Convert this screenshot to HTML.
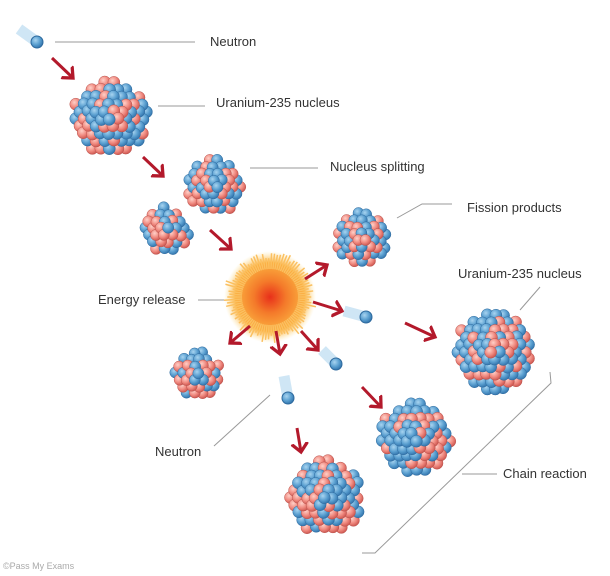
<!DOCTYPE html>
<html><head><meta charset="utf-8">
<style>
html,body{margin:0;padding:0;background:#fff;}
svg{display:block;}
text{font-family:"Liberation Sans",sans-serif;font-size:13px;fill:#333;}
</style></head>
<body>
<svg id="s" width="610" height="576" viewBox="0 0 610 576" xmlns="http://www.w3.org/2000/svg">
<defs>
<radialGradient id="gb" cx="0.38" cy="0.35" r="0.7"><stop offset="0" stop-color="#a8d4f0"/><stop offset="0.55" stop-color="#5a9fd0"/><stop offset="1" stop-color="#2e6fa8"/></radialGradient>
<radialGradient id="gr" cx="0.38" cy="0.35" r="0.7"><stop offset="0" stop-color="#ffd0c8"/><stop offset="0.55" stop-color="#f08a80"/><stop offset="1" stop-color="#c8504a"/></radialGradient>
<radialGradient id="ge" cx="0.5" cy="0.5" r="0.5"><stop offset="0" stop-color="#e8301a"/><stop offset="0.35" stop-color="#f47a2a"/><stop offset="0.75" stop-color="#fbb040"/><stop offset="1" stop-color="#fde6a0" stop-opacity="0"/></radialGradient>
<marker id="ah" markerWidth="6" markerHeight="6" refX="3" refY="3" orient="auto" markerUnits="strokeWidth"><path d="M0,0.3 L3,3 L0,5.7" fill="none" stroke="#b3192b" stroke-width="1.1"/></marker>
</defs>
<g stroke="#999" stroke-width="1" fill="none">
<line x1="55" y1="42" x2="195" y2="42"/>
<line x1="158" y1="106" x2="205" y2="106"/>
<line x1="250" y1="168" x2="318" y2="168"/>
<polyline points="397,218 422,204 452,204"/>
<line x1="540" y1="287" x2="520" y2="310"/>
<line x1="198" y1="300" x2="228" y2="300"/>
<line x1="214" y1="446" x2="270" y2="395"/>
<line x1="462" y1="474" x2="497" y2="474"/>
<polyline points="550,372 551,383 375,553 362,553"/>
</g>
<text x="210" y="46">Neutron</text>
<text x="216" y="107">Uranium-235 nucleus</text>
<text x="330" y="171">Nucleus splitting</text>
<text x="467" y="212">Fission products</text>
<text x="458" y="278">Uranium-235 nucleus</text>
<text x="98" y="304">Energy release</text>
<text x="155" y="456">Neutron</text>
<text x="503" y="478">Chain reaction</text>
<text x="3" y="569" style="font-size:9px;fill:#aaa">©Pass My Exams</text>
<g id="nuc"></g>
<circle cx="270" cy="297" r="46" fill="url(#ge)"/>
<g id="rays"></g>
<g stroke="#b3192b" stroke-width="3" fill="none" marker-end="url(#ah)">
<line x1="52" y1="58" x2="73" y2="78"/>
<line x1="143" y1="157" x2="163" y2="176"/>
<line x1="210" y1="230" x2="231" y2="249"/>
<line x1="305" y1="279" x2="327" y2="265"/>
<line x1="313" y1="302" x2="342" y2="311"/>
<line x1="250" y1="326" x2="230" y2="343"/>
<line x1="276" y1="331" x2="280" y2="354"/>
<line x1="301" y1="331" x2="318" y2="350"/>
<line x1="405" y1="323" x2="435" y2="337"/>
<line x1="362" y1="387" x2="381" y2="407"/>
<line x1="297" y1="428" x2="301" y2="452"/>
</g>
<g id="neu"></g>
</svg>
<script>
var ns="http://www.w3.org/2000/svg";
var seed=7;function rnd(){seed=(seed*16807)%2147483647;return seed/2147483647;}
function ball(g,x,y,r,c){var e=document.createElementNS(ns,"circle");e.setAttribute("cx",x.toFixed(1));e.setAttribute("cy",y.toFixed(1));e.setAttribute("r",r);e.setAttribute("fill",c?"url(#gr)":"url(#gb)");e.setAttribute("stroke",c?"#b8524c":"#2e6a9e");e.setAttribute("stroke-width","0.5");g.appendChild(e);}
function nucleus(cx,cy,R,br){var g=document.getElementById("nuc");var pts=[];var d=br*1.4;
for(var y=-R;y<=R;y+=d*0.87){for(var x=-R-d;x<=R+d;x+=d){var xx=x+((Math.round((y+R)/(d*0.87))%2)?d/2:0);xx+=(rnd()-0.5)*1.5;var yy=y+(rnd()-0.5)*1.5;if(xx*xx+yy*yy<=(R-br)*(R-br))pts.push([xx,yy]);}}
pts.sort(function(a,b){return (b[0]*b[0]+b[1]*b[1])-(a[0]*a[0]+a[1]*a[1]);});
pts.forEach(function(p){ball(g,cx+p[0],cy+p[1],br,rnd()<0.45);});}
nucleus(110,118,43,6);
nucleus(215,186,33,5.6);
nucleus(190,214,9,5.6);
nucleus(166,230,29,5.6);
nucleus(362,238,31,5.5);
nucleus(197,375,29,5.5);
nucleus(493,352,44,6);
nucleus(415,438,41,6);
nucleus(325,497,43,6);
var rg=document.getElementById("rays");
for(var i=0;i<90;i++){var a=i/90*Math.PI*2,l=38+rnd()*9;var e=document.createElementNS(ns,"line");e.setAttribute("x1",270+Math.cos(a)*28);e.setAttribute("y1",297+Math.sin(a)*28);e.setAttribute("x2",270+Math.cos(a)*l);e.setAttribute("y2",297+Math.sin(a)*l);e.setAttribute("stroke","#fbc060");e.setAttribute("stroke-width","1.5");rg.appendChild(e);}
var ng=document.getElementById("neu");
function neutron(x,y,dx,dy){var p=document.createElementNS(ns,"line");p.setAttribute("x1",x-dx);p.setAttribute("y1",y-dy);p.setAttribute("x2",x);p.setAttribute("y2",y);p.setAttribute("stroke","#bcdcf2");p.setAttribute("stroke-width","11");p.setAttribute("opacity","0.7");ng.appendChild(p);
var c=document.createElementNS(ns,"circle");c.setAttribute("cx",x);c.setAttribute("cy",y);c.setAttribute("r",6);c.setAttribute("fill","url(#gb)");c.setAttribute("stroke","#2e6a9e");ng.appendChild(c);}
neutron(37,42,18,13);
neutron(366,317,22,6);
neutron(336,364,14,14);
neutron(288,398,4,22);
</script>
</body></html>
